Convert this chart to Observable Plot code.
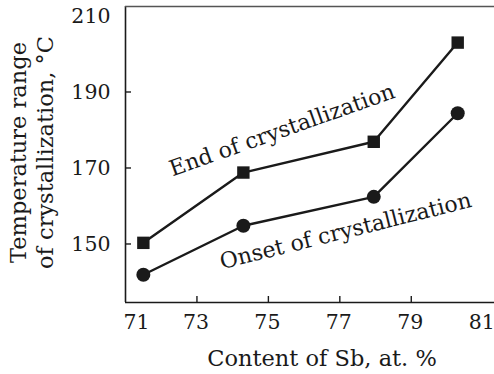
<!DOCTYPE html>
<html>
<head>
<meta charset="utf-8">
<script src="https://cdn.jsdelivr.net/npm/d3@7"></script>
<script src="https://cdn.jsdelivr.net/npm/@observablehq/plot@0.6"></script>
<style>
  html, body { margin: 0; padding: 0; background: #fff; }
  #chart svg { display: block; }
</style>
</head>
<body>
<div id="chart"></div>
<script>
// Sb content (at. %) of the measured alloys
const sb = [71.5, 74.3, 77.95, 80.3];
// Temperature at the end of crystallization, °C
const endTemp = [150.3, 168.8, 176.9, 203.0];
// Temperature at the onset of crystallization, °C
const onsetTemp = [141.9, 154.8, 162.4, 184.4];

const xLabels = [71, 73, 75, 77, 79, 81];
const xTickMarks = [73, 75, 77, 79];
const yLabels = [150, 170, 190, 210];
const yTickMarks = [150, 170, 190];
const xDomain = [71, 81.33];
const yDomain = [134.6, 212.5];

// Curve captions, placed in data units alongside the curves
const captions = [
  {text: "End of crystallization", x: 75.45, y: 178.2, angle: -19.5},
  {text: "Onset of crystallization", x: 77.21, y: 151.6, angle: -14}
];

const endRows = sb.map((x, i) => ({x, y: endTemp[i]}));
const onsetRows = sb.map((x, i) => ({x, y: onsetTemp[i]}));

const ink = "#1a1a1a";
const font = "DejaVu Serif, serif";

// the first x label is nudged clear of the axis corner
const xFirst = xLabels.slice(0, 1);
const xRest = xLabels.slice(1);

const chart = Plot.plot({
  width: 494,
  height: 374,
  marginLeft: 125,
  marginRight: 0,
  marginTop: 6,
  marginBottom: 72,
  style: {fontFamily: font, fontSize: "20px", color: ink, background: "#fff"},
  x: {domain: xDomain},
  y: {domain: yDomain},
  marks: [
    // frame: left, bottom and top edges
    Plot.ruleX([xDomain[0]], {stroke: ink, strokeWidth: 1.6}),
    Plot.ruleY([yDomain[0]], {stroke: ink, strokeWidth: 1.6}),
    Plot.ruleY([yDomain[1]], {stroke: "#555", strokeWidth: 1.6}),
    // inward tick marks
    Plot.axisX(xTickMarks, {tickSize: -6, text: null, label: null, stroke: ink, strokeWidth: 1.4}),
    Plot.axisY(yTickMarks, {tickSize: -6, text: null, label: null, stroke: ink, strokeWidth: 1.4}),
    // tick labels
    Plot.axisX(xFirst, {tickSize: 0, tickPadding: 12, label: null, dx: 11, fontSize: 20.5, fill: ink}),
    Plot.axisX(xRest, {tickSize: 0, tickPadding: 12, label: null, dx: -1, fontSize: 20.5, fill: ink}),
    Plot.axisY(yLabels, {tickSize: 0, tickPadding: 15, label: null, fontSize: 20.5, fill: ink}),
    // axis titles
    Plot.text(["Content of Sb, at. %"], {frameAnchor: "bottom", dx: 12, dy: 63, fontSize: 22.5, fill: ink}),
    Plot.text(["Temperature range\nof crystallization, °C"], {
      frameAnchor: "left", textAnchor: "middle", rotate: -90, dx: -95, dy: -2,
      fontSize: 22.5, lineHeight: 1.2, fill: ink
    }),
    // curves
    Plot.line(endRows, {x: "x", y: "y", stroke: ink, strokeWidth: 2.4}),
    Plot.line(onsetRows, {x: "x", y: "y", stroke: ink, strokeWidth: 2.4}),
    Plot.dot(endRows, {x: "x", y: "y", symbol: "square", r: 7, fill: ink, stroke: "none"}),
    Plot.dot(onsetRows, {x: "x", y: "y", symbol: "circle", r: 7, fill: ink, stroke: "none"}),
    // curve captions
    Plot.text(captions, {
      x: "x", y: "y", text: "text", rotate: "angle",
      textAnchor: "middle", lineAnchor: "bottom", fontSize: 22, fill: ink
    })
  ]
});

document.getElementById("chart").appendChild(chart);
</script>
</body>
</html>
